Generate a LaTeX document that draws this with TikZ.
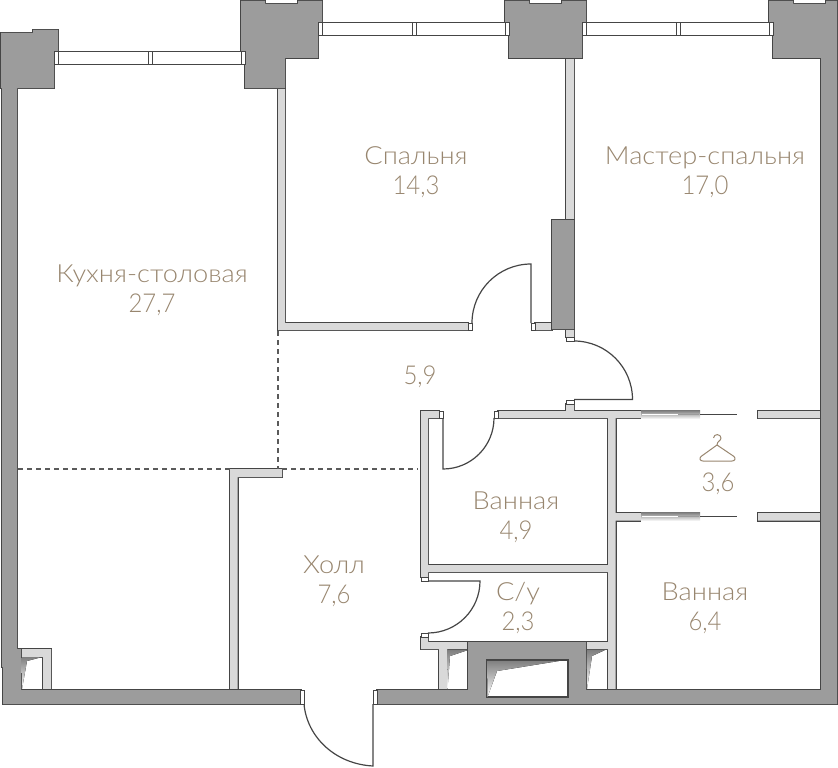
\documentclass[tikz,border=0pt]{standalone}
\usepackage{fontspec}
\setmainfont{Lato}[UprightFont=* Light]
\newfontfamily\namefont{Lato}[UprightFont=* Light, FakeStretch=1.09]
\newfontfamily\areafont{Lato}[UprightFont=* Light, FakeStretch=0.92]
\definecolor{wallcore}{HTML}{9C9C9C}
\definecolor{wallthin}{HTML}{D9D9D9}
\definecolor{wallline}{HTML}{454545}
\definecolor{shade}{HTML}{5A5A5A}
\definecolor{roomtext}{HTML}{98866F}
\tikzset{
        corefill/.style={fill=wallcore},
        coreline/.style={draw=wallline, line width=2.6pt, line join=miter},
        thinfill/.style={fill=wallthin},
        thinline/.style={draw=wallline, line width=2.6pt, line join=miter},
        jamb/.style={draw=wallline, fill=white, line width=1pt},
        leaf/.style={draw=wallline, line width=1.2pt},
        zoneline/.style={draw=shade, line width=1.2pt, dash pattern=on 5pt off 4pt},
        roomlabel/.style={text=roomtext, align=center, inner sep=0pt, font=\fontsize{26}{30}\selectfont\areafont},
    }
\def\thinwalls{
        (278, 88) rectangle (285, 330)
        (278, 323) rectangle (468, 330)
        (535, 323) rectangle (552, 330)
        (566, 58) rectangle (574, 220)
        (566, 329) rectangle (574, 337)
        (566, 404) rectangle (574, 411)
        (498, 411) rectangle (641, 418)
        (608, 411) rectangle (615.5, 690)
        (615, 513) rectangle (641, 520.5)
        (758, 411) rectangle (821, 418)
        (758, 513) rectangle (821, 520.5)
        (421, 411) rectangle (439, 418)
        (421, 411) rectangle (428, 577)
        (428, 565) rectangle (608, 572)
        (421, 637) rectangle (428, 649)
        (421, 642) rectangle (468, 649)
        (439, 642) rectangle (447, 690)
        (586, 642) rectangle (608, 649)
        (230, 469) rectangle (282, 477)
        (230, 469) rectangle (237.5, 690)
        (21, 649) rectangle (51, 657)
        (43, 649) rectangle (51, 690)
    }
\def\corewalls{
        (1, 33) -- (33, 33) -- (33, 30) -- (58, 30) -- (58, 52) -- (54, 52) -- (54, 88) -- (1, 88) -- cycle
        (2, 88) -- (17, 88) -- (17, 649) -- (21, 649) -- (21, 690) -- (300.5, 690) -- (300.5, 704) -- (3, 704) -- (3, 667) -- (2, 667) -- cycle
        (241, 1) -- (265, 1) -- (265, 4) -- (298, 4) -- (298, 1) -- (322, 1) -- (322, 23) -- (318, 23) -- (318, 58) -- (285, 58) -- (285, 88) -- (245, 88) -- (245, 52) -- (241, 52) -- cycle
        (505, 1) -- (529, 1) -- (529, 4) -- (562, 4) -- (562, 1) -- (586, 1) -- (586, 23) -- (582, 23) -- (582, 58) -- (509, 58) -- (509, 23) -- (505, 23) -- cycle
        (769, 1) -- (793, 1) -- (793, 4) -- (826, 4) -- (826, 1) -- (837, 1) -- (837, 704) -- (377, 704) -- (377, 690) -- (468, 690) -- (468, 642) -- (586, 642) -- (586, 690) -- (821, 690) -- (821, 58) -- (773, 58) -- (773, 23) -- (769, 23) -- cycle
        (552, 220) rectangle (574, 329)
    }
\begin{document}
\begin{tikzpicture}[x=1pt, y=-1pt]
        \useasboundingbox (0, 0) rectangle (838, 768);
        \path[thinline] \thinwalls;
        \path[thinfill] \thinwalls;
        \path[coreline] \corewalls;
        \path[corefill] \corewalls;
        % shaft and service voids
        \draw[draw=wallline, fill=white, line width=1.2pt] (487, 660) rectangle (568, 697);
        \fill[shade] (487, 660.5) -- (562, 660.5) -- (497, 671) -- (487.5, 697) -- cycle;
        \fill[shade] (447, 650) -- (468, 650) -- (450, 656) -- (447.5, 689) -- cycle;
        \fill[shade] (586.5, 650) -- (605, 650) -- (592, 656) -- (587, 689) -- cycle;
        \fill[shade] (21.5, 657) -- (42, 657) -- (27, 661) -- (22, 689) -- cycle;
        % windows
        \foreach \wx/\wy in {54/52, 318/23, 582/23} {
                \draw[jamb] (\wx, \wy) rectangle (\wx + 191, \wy + 13);
                \draw[jamb] (\wx, \wy) rectangle (\wx + 4, \wy + 13);
                \draw[jamb] (\wx + 94, \wy) rectangle (\wx + 98, \wy + 13);
                \draw[jamb] (\wx + 187, \wy) rectangle (\wx + 191, \wy + 13);
            }
        % door jambs
        \foreach \ax/\ay/\bx/\by in {468/323/472.5/330, 531/323/535/330, 566/337/574/341, 566/400/574/404,
                439/411/443/418, 494/411/498/418, 421/577/428/581, 421/633/428/637, 300.5/690/304/704, 373/690/377/704} {
                \draw[jamb] (\ax, \ay) rectangle (\bx, \by);
            }
        % door leaves
        \draw[leaf] (531, 323) -- (531, 264) arc[start angle=90, end angle=180, radius=59pt];
        \draw[leaf] (574, 341) arc[start angle=90, end angle=0, radius=58.5pt] -- (574, 399.5);
        \draw[leaf] (443, 418) -- (443, 469) arc[start angle=270, end angle=360, radius=51pt];
        \draw[leaf] (428, 581) -- (480, 581) arc[start angle=0, end angle=-90, radius=52pt];
        \draw[leaf] (304, 704) .. controls (307, 737) and (335, 764) .. (373, 766) -- (373, 704);
        % sliding doors
        \foreach \sy in {411, 513} {
                \fill[shade] (641, \sy - 0.5) rectangle (700, \sy + 8);
                \fill[white] (642, \sy + 2.5) rectangle (678, \sy + 4.2);
                \fill[wallcore] (678, \sy + 2.7) rectangle (699, \sy + 3.5);
                \draw[leaf] (700, \sy + 3.5) -- (737, \sy + 3.5);
            }
        % zone borders
        \draw[zoneline] (278, 331) -- (278, 469);
        \draw[zoneline] (18, 469) -- (230, 469);
        \draw[zoneline] (282, 469) -- (418, 469);
        % hanger
        \draw[draw=roomtext, line width=1pt, line join=round] (717, 445) -- (734, 456.5)
                .. controls (736, 458.5) and (735, 461) .. (732, 461) -- (703, 461)
                .. controls (700, 461) and (699, 458.5) .. (701, 456.5) -- (717, 445)
                .. controls (717, 441) and (721, 441) .. (721, 438)
                .. controls (721, 434) and (714, 433) .. (713.5, 438);
        % room labels
        \node[roomlabel] (bedroom) at (416, 172) {{\namefont\fontsize{25}{30}\selectfont Спальня}\\14,3};
        \node[roomlabel] (master) at (705, 172) {{\namefont\fontsize{25}{30}\selectfont Мастер-спальня}\\17,0};
        \node[roomlabel] (kitchen) at (152, 290) {{\namefont\fontsize{25}{30}\selectfont Кухня-столовая}\\27,7};
        \node[roomlabel] (corridor) at (420, 376.5) {5,9};
        \node[roomlabel] (wardrobe) at (718, 484) {3,6};
        \node[roomlabel] (bathsmall) at (516, 517) {{\namefont\fontsize{25}{30}\selectfont Ванная}\\4,9};
        \node[roomlabel] (hall) at (334, 581) {{\namefont\fontsize{25}{30}\selectfont Холл}\\7,6};
        \node[roomlabel] (toilet) at (518, 608.5) {{\namefont\fontsize{25}{30}\selectfont С/у}\\2,3};
        \node[roomlabel] (bathlarge) at (705, 608.5) {{\namefont\fontsize{25}{30}\selectfont Ванная}\\6,4};
    \end{tikzpicture}
\end{document}
